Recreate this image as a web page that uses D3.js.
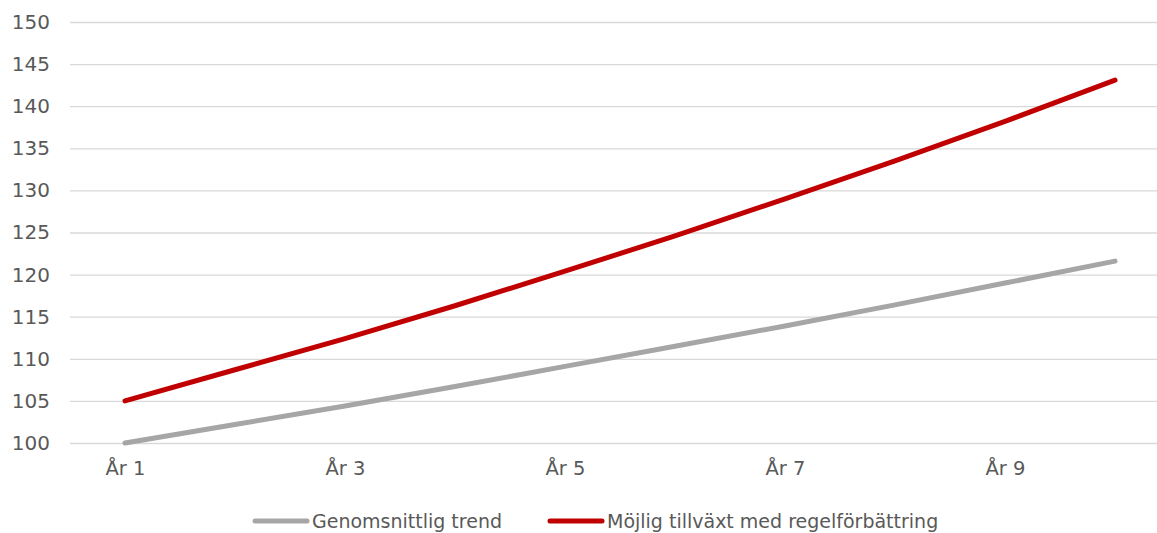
<!DOCTYPE html>
<html>
<head>
<meta charset="utf-8">
<script src="https://cdn.jsdelivr.net/npm/d3@7"></script>
<style>
  body { margin: 0; background: #fff; }
  svg text { font-family: "DejaVu Sans", sans-serif; fill: #595959; }
</style>
</head>
<body>
<svg id="chart" width="1157" height="533"></svg>
<script>
  const YEARS = ['År 1', 'År 2', 'År 3', 'År 4', 'År 5', 'År 6', 'År 7', 'År 8', 'År 9', 'År 10'];
  const SHOWN_YEARS = ['År 1', 'År 3', 'År 5', 'År 7', 'År 9'];
  const TREND = [100, 102.2, 104.4, 106.7, 109.1, 111.5, 113.9, 116.4, 119.0, 121.6];
  const REFORM = [105, 108.7, 112.4, 116.3, 120.4, 124.6, 129.0, 133.5, 138.2, 143.1];
  const Y_TICKS = [100, 105, 110, 115, 120, 125, 130, 135, 140, 145, 150];
  const SERIES_NAMES = ['Genomsnittlig trend', 'Möjlig tillväxt med regelförbättring'];

  let svg = d3.select('#chart'),
    paddingLeft = 70,
    plotRight = 1170,
    paddingTop = 22,
    plotBottom = 443;

  let scaleX = d3.scalePoint()
    .domain(YEARS)
    .range([paddingLeft, plotRight])
    .padding(0.5);

  let scaleY = d3.scaleLinear()
    .domain([100, 150])
    .range([plotBottom, paddingTop]);

  // gridlines + y labels
  let axisY = d3.axisLeft(scaleY)
    .tickValues(Y_TICKS)
    .tickSize(-(plotRight - paddingLeft))
    .tickPadding(20);

  let gy = svg.append('g')
    .attr('transform', 'translate(' + paddingLeft + ',0)')
    .call(axisY);
  gy.select('.domain').remove();
  gy.selectAll('line').attr('stroke', '#d9d9d9').attr('stroke-width', 1.3);
  gy.selectAll('text').style('font-size', '20px').style('fill', '#595959');

  // x labels
  let axisX = d3.axisBottom(scaleX)
    .tickValues(SHOWN_YEARS)
    .tickSize(0)
    .tickPadding(18);

  let gx = svg.append('g')
    .attr('transform', 'translate(0,' + plotBottom + ')')
    .call(axisX);
  gx.select('.domain').remove();
  gx.selectAll('text').style('font-size', '19.5px').style('fill', '#595959');

  // lines
  let line = d3.line()
    .x(function (d, i) { return scaleX(YEARS[i]); })
    .y(function (d) { return scaleY(d); });

  let series = [
    {name: SERIES_NAMES[0], values: TREND, color: '#a6a6a6'},
    {name: SERIES_NAMES[1], values: REFORM, color: '#c00000'}
  ];

  svg.append('g').selectAll('path')
    .data(series)
    .enter()
    .append('path')
    .attr('d', function (d) { return line(d.values); })
    .attr('fill', 'none')
    .attr('stroke', function (d) { return d.color; })
    .attr('stroke-width', 5)
    .attr('stroke-linecap', 'round')
    .attr('stroke-linejoin', 'round');

  // legend
  let legendX = [255, 550];
  let legend = svg.append('g').selectAll('g')
    .data(series)
    .enter()
    .append('g')
    .attr('transform', function (d, i) { return 'translate(' + legendX[i] + ',521)'; });

  legend.append('line')
    .attr('x1', 0).attr('x2', 52)
    .attr('stroke', function (d) { return d.color; })
    .attr('stroke-width', 5)
    .attr('stroke-linecap', 'round');

  legend.append('text')
    .attr('x', 57)
    .attr('dy', '0.35em')
    .style('font-size', '19px')
    .text(function (d) { return d.name; });
</script>
</body>
</html>
